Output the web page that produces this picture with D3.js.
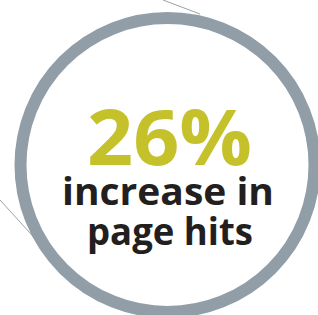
<!DOCTYPE html>
<html>
<head>
<meta charset="utf-8">
<script src="https://cdn.jsdelivr.net/npm/d3@7/dist/d3.min.js"></script>
<style>
html,body{margin:0;padding:0;background:#fff;overflow:hidden;}
svg{display:block;}
</style>
</head>
<body>
<svg id="chart" width="318" height="315"></svg>
<script>
const statValues = [26];
const statSuffix = ["%"];
const captionLines = ["increase in", "page hits"];

const W = 318, H = 315;
const svg = d3.select("#chart");

// decorative thin lines
const deco = [
  [[163, 0], [200, 14]],
  [[0, 200], [40, 244]]
];
svg.selectAll("line.deco").data(deco).join("line")
  .attr("class", "deco")
  .attr("x1", d => d[0][0]).attr("y1", d => d[0][1])
  .attr("x2", d => d[1][0]).attr("y2", d => d[1][1])
  .attr("stroke", "#98a3ab").attr("stroke-width", 1);

const cx = 167.5, cy = 165, r = 147;
svg.append("circle")
  .attr("cx", cx).attr("cy", cy).attr("r", r)
  .attr("fill", "#fff")
  .attr("stroke", "#929ea7")
  .attr("stroke-width", 12);

const font = "'Open Sans', 'DejaVu Sans', sans-serif";

svg.append("text")
  .data(statValues)
  .attr("x", 87).attr("y", 165)
  .attr("font-family", font)
  .attr("font-weight", 700)
  .attr("font-size", 77)
  .attr("fill", "#c4c12b")
  .attr("textLength", 165)
  .attr("lengthAdjust", "spacingAndGlyphs")
  .text(d => d + statSuffix[0]);

const ys = [205, 245];
const xs = [62, 87];
const widths = [212, 166];
svg.selectAll("text.cap").data(captionLines).join("text")
  .attr("class", "cap")
  .attr("x", (d, i) => xs[i]).attr("y", (d, i) => ys[i])
  .attr("font-family", font)
  .attr("font-weight", 700)
  .attr("font-size", 37)
  .attr("fill", "#231f20")
  .attr("textLength", (d, i) => widths[i])
  .attr("lengthAdjust", "spacingAndGlyphs")
  .text(d => d);
</script>
</body>
</html>
